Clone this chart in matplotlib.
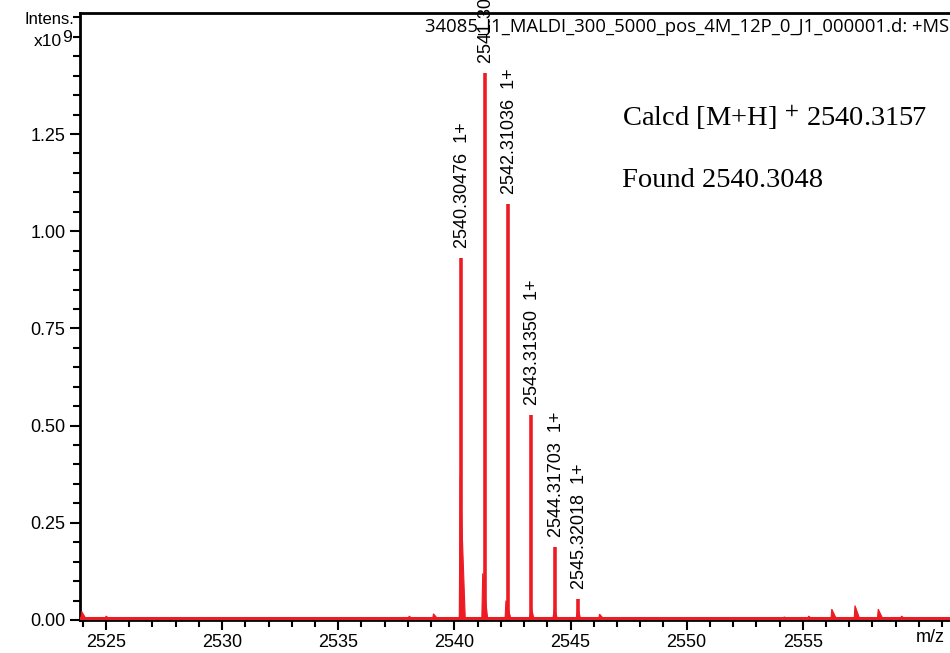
import numpy as np
import matplotlib
matplotlib.use("Agg")
import matplotlib.pyplot as plt
from matplotlib.ticker import MultipleLocator, FormatStrFormatter

# labelled isotope peaks (m/z, intensity in 1e9 counts)
peak_mz = [2540.30476, 2541.30747, 2542.31036, 2543.31350, 2544.31703, 2545.32018]
peak_int = [0.931, 1.407, 1.070, 0.527, 0.188, 0.054]
peak_labels = ["2540.30476  1+", "2541.30747  1+", "2542.31036  1+",
               "2543.31350  1+", "2544.31703  1+", "2545.32018  1+"]

# small unlabelled peaks / shoulders
minor_mz = [2523.95, 2525.0, 2538.05, 2539.1, 2540.25, 2541.22, 2542.22, 2543.25,
            2546.25, 2554.2, 2555.25, 2556.25, 2557.25, 2558.25, 2559.25]
minor_int = [0.022, 0.010, 0.010, 0.016, 0.37, 0.12, 0.05, 0.012,
             0.015, 0.008, 0.010, 0.028, 0.037, 0.028, 0.010]

title = "34085_J1_MALDI_300_5000_pos_4M_12P_0_J1_000001.d: +MS"
calcd = "Calcd [M+H] $^{+}$ 2540.3157"
found = "Found 2540.3048"

red = "#ED1C24"
plt.rcParams["font.family"] = ["Liberation Sans", "DejaVu Sans"]
plt.rcParams["mathtext.fontset"] = "stix"

fig = plt.figure(figsize=(9.5, 6.53), dpi=100)
ax = fig.add_axes([80 / 950, 33 / 653, 1 - 80 / 950, (620 - 12.7) / 653])

xmin, xmax = 2523.88, 2561.34
ax.set_xlim(xmin, xmax)
ax.set_ylim(0, 1.562)

# baseline
ax.plot([xmin, xmax], [0.004, 0.004], color=red, lw=2.2, zorder=3)

# minor peaks as skewed triangles
for mz, h in zip(minor_mz, minor_int):
    ax.fill([mz - 0.04, mz, mz + 0.22], [0, h, 0], color=red, lw=0.8,
            edgecolor=red, zorder=3)

# main peaks
for mz, h in zip(peak_mz, peak_int):
    ax.vlines(mz, 0, h, color=red, lw=2.6, zorder=4)
    ax.fill([mz - 0.08, mz, mz + 0.12], [0, 0.03, 0], color=red, zorder=4)

for mz, h, lab in zip(peak_mz, peak_int, peak_labels):
    ax.annotate(lab, (mz, h), xytext=(1, 7), textcoords="offset points",
                rotation=90, ha="center", va="bottom", fontsize=13,
                annotation_clip=False, clip_on=False, zorder=5)

fig.text(622 / 950, 1 - 118 / 653, calcd, family="Liberation Serif",
         fontsize=20.5, va="center", ha="left")
fig.text(622 / 950, 1 - 180 / 653, found, family="Liberation Serif",
         fontsize=20.5, va="center", ha="left")

fig.text(0.999, 1 - 27 / 653, title, family="Open Sans", fontsize=13.3,
         ha="right", va="center", zorder=1)
fig.text(74 / 950, 1 - 19 / 653, "Intens.", fontsize=12, ha="right", va="center")
fig.text(62 / 950, 1 - 42 / 653, "x10", fontsize=12.5, ha="right", va="center")
fig.text(62 / 950, 1 - 37 / 653, "9", fontsize=12.5, ha="left", va="center")
fig.text(930 / 950, 1 - 638 / 653, "m/z", fontsize=13, ha="center", va="center")

# axes styling
ax.spines["right"].set_visible(False)
for s in ["left", "top", "bottom"]:
    ax.spines[s].set_linewidth(2)
ax.set_xticks(np.arange(2525, 2556, 5))
ax.xaxis.set_minor_locator(MultipleLocator(1))
ax.set_yticks([0.0, 0.25, 0.5, 0.75, 1.0, 1.25])
ax.yaxis.set_minor_locator(MultipleLocator(0.05))
ax.yaxis.set_major_formatter(FormatStrFormatter("%.2f"))
ax.tick_params(which="major", length=7, width=1.5, labelsize=13, direction="out")
ax.tick_params(which="minor", length=5, width=1.5, direction="out")
ax.tick_params(axis="x", pad=3)

fig.savefig("out.png", dpi=100)
